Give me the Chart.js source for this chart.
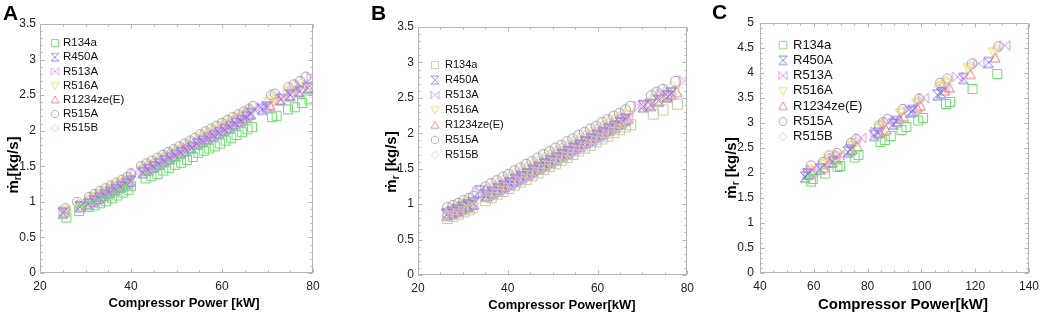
<!DOCTYPE html>
<html><head><meta charset="utf-8">
<script src="https://cdn.jsdelivr.net/npm/chart.js@4.4.0/dist/chart.umd.min.js"></script>
<style>
html,body{margin:0;padding:0;background:#fff;}
#wrap{position:relative;width:1045px;height:316px;overflow:hidden;background:#fff;}
canvas{position:absolute;top:0;}
.lbl{position:absolute;font:bold 21px "Liberation Sans",Arial,sans-serif;color:#000;line-height:21px;}
</style></head><body>
<div id="wrap">
<canvas id="cA" width="350" height="316" style="left:0px"></canvas>
<canvas id="cB" width="350" height="316" style="left:350px"></canvas>
<canvas id="cC" width="350" height="316" style="left:695px"></canvas>
<div class="lbl" style="left:3px;top:2px">A</div>
<div class="lbl" style="left:371px;top:2px">B</div>
<div class="lbl" style="left:712px;top:1px">C</div>
</div>
<script>
// ---------- data ----------
const refrigerants = ['R134a','R450A','R513A','R516A','R1234ze(E)','R515A','R515B'];

const xTicksAB = [20,40,60,80];
const xLabelsAB = ['20','40','60','80'];
const yTicksAB = [0,0.5,1,1.5,2,2.5,3,3.5];
const yLabelsAB = ['0','0.5','1','1.5','2','2.5','3','3.5'];
const xTicksC = [40,60,80,100,120,140];
const xLabelsC = ['40','60','80','100','120','140'];
const yTicksC = [0,0.5,1,1.5,2,2.5,3,3.5,4,4.5,5];
const yLabelsC = ['0','0.5','1','1.5','2','2.5','3','3.5','4','4.5','5'];

// Panel A  [compressor power kW, mass flow kg/s]
const A_R134a = [[25.8,0.78],[28.6,0.87],[30.8,0.93],[32.0,0.95],[33.2,0.98],[34.5,1.01],[35.8,1.05],[37.0,1.09],[38.2,1.13],[39.4,1.17],[40.0,1.22],[43.2,1.33],[44.5,1.36],[45.8,1.39],[47.1,1.44],[48.4,1.48],[49.7,1.52],[51.0,1.55],[52.3,1.59],[53.6,1.63],[54.8,1.69],[56.0,1.72],[57.2,1.75],[58.4,1.78],[59.6,1.82],[60.8,1.86],[62.0,1.90],[63.2,1.94],[64.4,1.98],[65.6,2.02],[66.6,2.05],[71.0,2.19],[72.0,2.21],[74.5,2.30],[76.0,2.33],[77.6,2.39],[79.2,2.44]];
const A_R450A = [[25.0,0.84],[28.8,0.93],[30.6,0.97],[31.8,1.01],[33.0,1.05],[34.2,1.09],[35.4,1.13],[36.6,1.17],[37.8,1.21],[39.0,1.25],[40.0,1.29],[42.6,1.41],[43.8,1.45],[45.0,1.49],[46.2,1.53],[47.4,1.57],[48.6,1.61],[49.8,1.65],[51.0,1.69],[52.2,1.72],[53.4,1.76],[54.6,1.81],[55.8,1.85],[57.0,1.89],[58.2,1.93],[59.4,1.97],[60.6,2.01],[61.8,2.05],[63.0,2.10],[64.2,2.14],[65.4,2.19],[66.4,2.24],[68.8,2.30],[69.8,2.33],[73.0,2.44],[75.0,2.50],[77.0,2.55],[78.8,2.60]];
const A_R513A = [[25.3,0.87],[29.0,0.95],[31.0,1.00],[32.2,1.04],[33.4,1.08],[34.6,1.12],[35.8,1.16],[37.0,1.20],[38.2,1.25],[39.4,1.29],[41.0,1.41],[43.0,1.44],[44.2,1.48],[45.4,1.52],[46.6,1.56],[47.8,1.60],[49.0,1.64],[50.2,1.68],[51.4,1.72],[52.6,1.76],[53.8,1.80],[55.0,1.84],[56.2,1.88],[57.4,1.92],[58.6,1.96],[59.8,2.00],[61.0,2.05],[62.2,2.09],[63.4,2.14],[64.6,2.18],[65.8,2.23],[67.0,2.30],[68.6,2.33],[70.0,2.35],[73.5,2.48],[75.5,2.55],[77.5,2.62],[79.8,2.75]];
const A_R516A = [[25.6,0.88],[29.2,0.96],[31.2,1.03],[32.4,1.07],[33.6,1.11],[34.8,1.15],[36.0,1.19],[37.2,1.23],[38.4,1.27],[39.6,1.31],[43.4,1.47],[44.6,1.51],[45.8,1.55],[47.0,1.59],[48.2,1.63],[49.4,1.67],[50.6,1.71],[51.8,1.75],[53.0,1.79],[55.2,1.88],[56.4,1.92],[57.6,1.96],[58.8,2.00],[60.0,2.04],[61.2,2.08],[62.4,2.13],[63.6,2.17],[64.8,2.21],[66.0,2.26],[70.4,2.40],[72.2,2.45],[74.4,2.52],[76.4,2.57],[78.4,2.63]];
const A_R1234ze = [[25.4,0.85],[29.0,0.94],[31.0,0.99],[32.2,1.03],[33.4,1.07],[34.6,1.11],[35.8,1.15],[37.0,1.19],[38.2,1.23],[39.4,1.27],[43.2,1.43],[44.4,1.47],[45.6,1.51],[46.8,1.55],[48.0,1.59],[49.2,1.63],[50.4,1.67],[51.6,1.71],[52.8,1.75],[55.0,1.83],[56.2,1.87],[57.4,1.91],[58.6,1.95],[59.8,1.99],[61.0,2.03],[62.2,2.08],[63.4,2.12],[64.6,2.16],[65.8,2.21],[70.6,2.35],[72.6,2.42],[74.8,2.48],[76.8,2.54],[79.0,2.60]];
const A_R515A = [[25.6,0.91],[28.2,1.00],[30.8,1.07],[32.0,1.11],[33.2,1.15],[34.4,1.19],[35.6,1.23],[36.8,1.27],[38.0,1.31],[39.2,1.35],[40.0,1.40],[42.2,1.50],[43.4,1.54],[44.6,1.58],[45.8,1.62],[47.0,1.66],[48.2,1.70],[49.4,1.74],[50.6,1.78],[51.8,1.82],[53.0,1.86],[54.0,1.90],[55.2,1.95],[56.4,1.99],[57.6,2.03],[58.8,2.07],[60.0,2.11],[61.2,2.15],[62.4,2.19],[63.6,2.23],[64.8,2.27],[66.0,2.31],[66.8,2.35],[70.8,2.50],[71.6,2.52],[74.6,2.61],[75.8,2.65],[77.2,2.70],[78.4,2.76]];
const A_R515B = [[25.8,0.88],[28.4,0.97],[31.0,1.05],[32.2,1.09],[33.4,1.13],[34.6,1.17],[35.8,1.21],[37.0,1.25],[38.2,1.29],[39.4,1.33],[42.4,1.48],[43.6,1.52],[44.8,1.56],[46.0,1.60],[47.2,1.64],[48.4,1.68],[49.6,1.72],[50.8,1.76],[52.0,1.80],[53.2,1.84],[55.4,1.93],[56.6,1.97],[57.8,2.01],[59.0,2.05],[60.2,2.09],[61.4,2.13],[62.6,2.17],[63.8,2.21],[65.0,2.25],[66.2,2.29],[71.0,2.47],[74.8,2.59],[76.2,2.64],[77.6,2.68]];

// Panel B
const B_R134a = [[26.6,0.80],[27.8,0.83],[29.0,0.86],[30.2,0.89],[31.4,0.92],[32.2,0.95],[35.0,1.05],[36.3,1.09],[37.6,1.14],[38.9,1.18],[40.2,1.22],[41.5,1.27],[42.8,1.31],[44.1,1.35],[45.4,1.40],[46.7,1.44],[48.0,1.49],[49.3,1.53],[50.6,1.57],[51.9,1.62],[53.2,1.66],[54.5,1.70],[55.8,1.75],[57.1,1.79],[58.4,1.83],[59.7,1.88],[61.0,1.92],[62.3,1.96],[63.6,2.01],[64.9,2.05],[66.2,2.09],[67.4,2.12],[72.4,2.27],[74.6,2.33],[77.8,2.41]];
const B_R450A = [[26.4,0.85],[27.6,0.88],[28.8,0.91],[30.0,0.95],[31.2,0.98],[32.4,1.01],[33.8,1.18],[35.2,1.12],[36.5,1.16],[37.8,1.21],[39.1,1.25],[40.4,1.29],[41.7,1.34],[43.0,1.38],[44.3,1.42],[45.6,1.47],[46.9,1.51],[48.2,1.56],[49.5,1.60],[50.8,1.64],[52.1,1.69],[53.4,1.73],[54.7,1.78],[56.0,1.82],[57.3,1.87],[58.6,1.91],[59.9,1.96],[61.2,2.00],[62.5,2.05],[63.8,2.09],[65.1,2.14],[66.2,2.19],[70.2,2.38],[71.8,2.40],[73.6,2.46],[75.6,2.52],[76.4,2.56]];
const B_R513A = [[26.8,0.87],[28.0,0.90],[29.2,0.94],[30.4,0.97],[31.6,1.00],[33.4,1.17],[35.6,1.14],[36.9,1.18],[38.2,1.23],[39.5,1.27],[40.8,1.32],[42.1,1.36],[43.4,1.41],[44.7,1.45],[46.0,1.50],[47.3,1.54],[48.6,1.59],[49.9,1.63],[51.2,1.68],[52.5,1.72],[53.8,1.77],[55.1,1.81],[56.4,1.86],[57.7,1.90],[59.0,1.95],[60.3,1.99],[61.6,2.04],[62.9,2.08],[64.2,2.13],[65.5,2.18],[66.6,2.22],[69.4,2.38],[70.6,2.40],[74.4,2.55],[76.0,2.60],[79.4,2.74]];
const B_R516A = [[27.2,0.89],[28.4,0.92],[29.6,0.95],[30.8,0.99],[32.0,1.02],[35.8,1.16],[37.1,1.20],[38.4,1.25],[39.7,1.29],[41.0,1.34],[42.3,1.38],[43.6,1.43],[44.9,1.47],[46.2,1.52],[47.5,1.56],[48.8,1.61],[50.1,1.65],[51.4,1.70],[52.7,1.74],[54.0,1.79],[55.3,1.83],[56.6,1.88],[57.9,1.92],[59.2,1.97],[60.5,2.01],[61.8,2.06],[63.1,2.10],[64.4,2.15],[65.7,2.20],[67.0,2.25],[71.2,2.41],[73.0,2.47],[75.2,2.53],[77.2,2.59]];
const B_R1234ze = [[27.0,0.86],[28.2,0.89],[29.4,0.92],[30.6,0.96],[31.8,0.99],[35.4,1.12],[36.7,1.16],[38.0,1.21],[39.3,1.25],[40.6,1.30],[41.9,1.34],[43.2,1.39],[44.5,1.43],[45.8,1.48],[47.1,1.52],[48.4,1.57],[49.7,1.61],[51.0,1.66],[52.3,1.70],[53.6,1.75],[54.9,1.79],[56.2,1.84],[57.5,1.88],[58.8,1.93],[60.1,1.97],[61.4,2.02],[62.7,2.06],[64.0,2.11],[65.3,2.15],[66.6,2.20],[71.4,2.40],[73.4,2.46],[75.6,2.52],[77.6,2.58]];
const B_R515A = [[26.6,0.95],[27.8,0.98],[29.0,1.01],[30.2,1.05],[31.4,1.08],[32.4,1.11],[35.0,1.24],[36.3,1.29],[37.6,1.33],[38.9,1.38],[40.2,1.42],[41.5,1.47],[42.8,1.51],[44.1,1.56],[45.4,1.60],[46.7,1.65],[48.0,1.70],[49.3,1.74],[50.6,1.79],[51.9,1.83],[53.2,1.88],[54.5,1.92],[55.8,1.97],[57.1,2.01],[58.4,2.06],[59.7,2.10],[61.0,2.15],[62.3,2.19],[63.6,2.24],[64.9,2.28],[66.2,2.33],[67.3,2.38],[72.0,2.53],[73.2,2.58],[74.6,2.62],[77.4,2.73]];
const B_R515B = [[27.0,0.93],[28.2,0.96],[29.4,0.99],[30.6,1.03],[31.8,1.06],[35.4,1.21],[36.7,1.26],[38.0,1.30],[39.3,1.35],[40.6,1.39],[41.9,1.44],[43.2,1.48],[44.5,1.53],[45.8,1.57],[47.1,1.62],[48.4,1.66],[49.7,1.71],[51.0,1.75],[52.3,1.80],[53.6,1.84],[54.9,1.89],[56.2,1.93],[57.5,1.98],[58.8,2.02],[60.1,2.07],[61.4,2.11],[62.7,2.16],[64.0,2.20],[65.3,2.25],[66.6,2.30],[72.6,2.50],[74.0,2.55],[76.6,2.66]];

// Panel C
const C_R134a = [[59.0,1.83],[59.6,1.88],[64.2,1.99],[68.8,2.12],[69.8,2.14],[75.2,2.31],[76.6,2.36],[84.8,2.62],[86.4,2.66],[88.6,2.74],[92.6,2.86],[94.4,2.92],[98.8,3.05],[100.6,3.10],[109.2,3.38],[110.6,3.42],[119.0,3.68],[128.2,3.98]];
const C_R450A = [[56.8,1.92],[57.6,1.98],[62.4,2.08],[67.0,2.22],[72.6,2.42],[73.6,2.46],[82.4,2.75],[84.0,2.80],[89.6,2.98],[90.8,3.03],[96.0,3.22],[96.8,3.25],[106.0,3.56],[107.4,3.60],[115.6,3.89],[125.0,4.21]];
const C_R513A = [[58.2,2.00],[59.4,2.06],[63.6,2.15],[67.8,2.30],[69.4,2.36],[77.4,2.70],[83.2,2.82],[87.8,3.02],[90.6,3.06],[95.6,3.28],[100.8,3.50],[108.4,3.68],[113.4,3.92],[121.4,4.19],[131.0,4.55]];
const C_R516A = [[58.6,2.05],[64.0,2.18],[66.0,2.28],[69.0,2.34],[74.4,2.55],[84.2,2.88],[86.2,2.95],[92.2,3.20],[98.2,3.40],[107.2,3.72],[109.0,3.80],[117.4,4.10],[126.8,4.42]];
const C_R1234ze = [[58.4,1.96],[59.8,2.03],[63.8,2.10],[65.8,2.20],[68.2,2.26],[74.2,2.46],[76.2,2.52],[84.6,2.80],[86.8,2.86],[91.8,3.08],[93.4,3.12],[98.4,3.30],[99.6,3.34],[108.6,3.64],[110.4,3.70],[118.2,3.97],[127.4,4.30]];
const C_R515A = [[59.0,2.15],[63.4,2.22],[65.6,2.35],[68.6,2.40],[73.8,2.60],[75.8,2.68],[84.2,2.95],[85.8,3.02],[87.4,3.08],[93.0,3.28],[99.2,3.49],[107.0,3.80],[109.6,3.89],[118.8,4.19],[128.6,4.53]];
const C_R515B = [[58.6,2.08],[63.0,2.18],[65.4,2.30],[68.4,2.36],[73.4,2.55],[75.6,2.62],[83.8,2.90],[85.4,2.98],[92.6,3.24],[98.8,3.44],[106.6,3.74],[109.2,3.84],[118.4,4.14],[128.0,4.47]];

// ---------- styles ----------
const FONT = '"Liberation Sans", Arial, Helvetica, sans-serif';
const shapes = ['square','hourglass','bowtie','down','up','circle','diamond'];
const colorsAC = ['#6edd6e','#7a7af0','#dc92e4','#f0d458','#f07474','#a0a0a0','#d8d0a8'];
const colorsB  = ['#cac8a0','#7a7af0','#dc92e4','#f0d458','#f07474','#a0a0a0','#d8d0a8'];

function makeMarker(shape, color, size) {
  const pad = 2, n = size + pad * 2;
  const c = document.createElement('canvas'); c.width = n; c.height = n;
  const g = c.getContext('2d');
  g.strokeStyle = color; g.lineWidth = 1;
  const l = pad, t = pad, r = pad + size, b = pad + size, cx = n / 2, cy = n / 2;
  g.beginPath();
  switch (shape) {
    case 'square': g.rect(l + 0.5, t + 0.5, size - 1, size - 1); break;
    case 'circle': g.arc(cx, cy, size / 2 - 0.3, 0, Math.PI * 2); break;
    case 'hourglass': g.moveTo(l, t); g.lineTo(r, t); g.lineTo(l, b); g.lineTo(r, b); g.closePath(); break;
    case 'bowtie': g.moveTo(l, t); g.lineTo(r, b); g.lineTo(r, t); g.lineTo(l, b); g.closePath(); break;
    case 'down': g.moveTo(l, t + 1); g.lineTo(r, t + 1); g.lineTo(cx, b); g.closePath(); break;
    case 'up': g.moveTo(cx, t); g.lineTo(r, b - 1); g.lineTo(l, b - 1); g.closePath(); break;
    case 'diamond': g.moveTo(cx, t); g.lineTo(r, cy); g.lineTo(cx, b); g.lineTo(l, cy); g.closePath(); break;
  }
  g.stroke();
  return c;
}

const panelDeco = {
  id: 'panelDeco',
  beforeDatasetsDraw(chart, args, o) {
    const { ctx, chartArea: a, scales: { x, y } } = chart;
    ctx.save();
    ctx.strokeStyle = o.frameColor; ctx.lineWidth = 1;
    const L = Math.round(a.left) + 0.5, T = Math.round(a.top) + 0.5, R = Math.round(a.right) - 0.5, B = Math.round(a.bottom) - 0.5;
    ctx.strokeRect(L, T, R - L, B - T);
    const minor = (vals, sub) => { const out = []; for (let i = 0; i < vals.length - 1; i++) for (let j = 1; j < sub; j++) out.push(vals[i] + (vals[i + 1] - vals[i]) * j / sub); return out; };
    const xs = x.ticks.map(t => t.value), ys = y.ticks.map(t => t.value);
    ctx.beginPath();
    const xm = (v, len) => { const p = Math.round(x.getPixelForValue(v)) + 0.5; ctx.moveTo(p, B); ctx.lineTo(p, B - len); ctx.moveTo(p, T); ctx.lineTo(p, T + len); };
    const ym = (v, len) => { const p = Math.round(y.getPixelForValue(v)) + 0.5; ctx.moveTo(L, p); ctx.lineTo(L + len, p); ctx.moveTo(R, p); ctx.lineTo(R - len, p); };
    xs.forEach(v => xm(v, 4)); minor(xs, o.xSub).forEach(v => xm(v, 2));
    ys.forEach(v => ym(v, 4)); minor(ys, o.ySub).forEach(v => ym(v, 2));
    ctx.stroke();
    ctx.restore();
  },
  afterDraw(chart, args, o) {
    const { ctx } = chart;
    ctx.save();
    const lg = o.legend;
    ctx.font = lg.size + 'px ' + FONT;
    ctx.fillStyle = '#111'; ctx.textBaseline = 'middle'; ctx.textAlign = 'left';
    chart.data.datasets.forEach((ds, i) => {
      const yy = lg.y0 + i * lg.dy;
      const img = ds.pointStyle;
      const w = img.width * lg.ms, h = img.height * lg.ms;
      ctx.drawImage(img, lg.mx - w / 2, yy - h / 2, w, h);
      ctx.fillText(ds.label, lg.tx, yy);
    });
    const xt = o.xTitle;
    ctx.font = 'bold ' + xt.size + 'px ' + FONT;
    ctx.textAlign = 'center'; ctx.fillStyle = '#000';
    ctx.fillText(xt.text, xt.cx, xt.cy);
    const yt = o.yTitle;
    ctx.translate(yt.cx, yt.cy); ctx.rotate(-Math.PI / 2);
    const fMain = 'bold ' + yt.size + 'px ' + FONT, fSub = 'bold ' + Math.round(yt.size * 0.68) + 'px ' + FONT;
    ctx.font = fMain; const w1 = ctx.measureText(yt.main).width; const w3 = ctx.measureText(yt.unit).width;
    ctx.font = fSub; const w2 = ctx.measureText(yt.sub).width;
    let sx = -(w1 + w2 + w3) / 2;
    ctx.textAlign = 'left';
    ctx.font = fMain; ctx.fillText(yt.main, sx, 0); sx += w1;
    ctx.font = fSub; ctx.fillText(yt.sub, sx, yt.size * 0.3); sx += w2;
    ctx.font = fMain; ctx.fillText(yt.unit, sx, 0);
    ctx.restore();
  }
};

function makeChart(id, series, colors, cfg) {
  const datasets = series.map((pts, i) => ({
    label: refrigerants[i],
    data: pts.map(([x, y]) => ({ x, y })),
    pointStyle: makeMarker(shapes[i], colors[i], cfg.marker),
    borderColor: colors[i],
    backgroundColor: 'rgba(0,0,0,0)',
    pointRadius: cfg.marker / 2,
    showLine: false
  }));
  const tickFont = { family: FONT, size: cfg.tickSize };
  return new Chart(document.getElementById(id), {
    type: 'scatter',
    data: { datasets },
    options: {
      responsive: false, animation: false, devicePixelRatio: 1,
      layout: { padding: cfg.padding },
      plugins: {
        legend: { display: false }, tooltip: { enabled: false },
        panelDeco: cfg.deco
      },
      scales: {
        x: {
          type: 'linear', min: cfg.xTicks[0], max: cfg.xTicks[cfg.xTicks.length - 1],
          afterBuildTicks: s => { s.ticks = cfg.xTicks.map(v => ({ value: v })); },
          afterFit: s => { s.height = cfg.xAxisH; },
          grid: { display: false, drawTicks: false }, border: { display: false },
          ticks: { font: tickFont, color: '#222', padding: 6, maxRotation: 0, autoSkip: false,
                   callback: (v, i) => cfg.xLabels[i] }
        },
        y: {
          type: 'linear', min: cfg.yTicks[0], max: cfg.yTicks[cfg.yTicks.length - 1],
          afterBuildTicks: s => { s.ticks = cfg.yTicks.map(v => ({ value: v })); },
          afterFit: s => { s.width = cfg.yAxisW; },
          grid: { display: false, drawTicks: false }, border: { display: false },
          ticks: { font: tickFont, color: '#222', padding: cfg.yPad, autoSkip: false,
                   callback: (v, i) => cfg.yLabels[i] }
        }
      }
    },
    plugins: [panelDeco]
  });
}

makeChart('cA', [A_R134a, A_R450A, A_R513A, A_R516A, A_R1234ze, A_R515A, A_R515B], colorsAC, {
  xTicks: xTicksAB, xLabels: xLabelsAB, yTicks: yTicksAB, yLabels: yLabelsAB, marker: 10, tickSize: 12, yPad: 4,
  padding: { left: 0, top: 24, right: 37, bottom: 0 }, xAxisH: 43, yAxisW: 40,
  deco: {
    frameColor: '#b4b4b4', xSub: 4, ySub: 5,
    legend: { mx: 55, tx: 63, y0: 43, dy: 14.2, size: 11.5, ms: 0.75 },
    xTitle: { text: 'Compressor Power [kW]', cx: 184, cy: 303, size: 13 },
    yTitle: { main: 'ṁ', sub: 'r', unit: '[kg/s]', cx: 14, cy: 165, size: 15 }
  }
});
makeChart('cB', [B_R134a, B_R450A, B_R513A, B_R516A, B_R1234ze, B_R515A, B_R515B], colorsB, {
  xTicks: xTicksAB, xLabels: xLabelsAB, yTicks: yTicksAB, yLabels: yLabelsAB, marker: 11, tickSize: 12, yPad: 4,
  padding: { left: 0, top: 27, right: 12, bottom: 0 }, xAxisH: 41, yAxisW: 68,
  deco: {
    frameColor: '#b4b4b4', xSub: 4, ySub: 5,
    legend: { mx: 85, tx: 95, y0: 65, dy: 15, size: 11, ms: 0.72 },
    xTitle: { text: 'Compressor Power[kW]', cx: 212, cy: 305, size: 13 },
    yTitle: { main: 'ṁ', sub: 'r', unit: ' [kg/s]', cx: 42, cy: 162, size: 15 }
  }
});
makeChart('cC', [C_R134a, C_R450A, C_R513A, C_R516A, C_R1234ze, C_R515A, C_R515B], colorsAC, {
  xTicks: xTicksC, xLabels: xLabelsC, yTicks: yTicksC, yLabels: yLabelsC, marker: 10, tickSize: 12, yPad: 6,
  padding: { left: 0, top: 23, right: 12, bottom: 0 }, xAxisH: 43, yAxisW: 65,
  deco: {
    frameColor: '#b4b4b4', xSub: 4, ySub: 5,
    legend: { mx: 88, tx: 98, y0: 45, dy: 15.3, size: 13, ms: 0.85 },
    xTitle: { text: 'Compressor Power[kW]', cx: 208, cy: 305, size: 15 },
    yTitle: { main: 'ṁ', sub: 'r', unit: ' [kg/s]', cx: 37, cy: 168, size: 15 }
  }
});
</script>
</body></html>
